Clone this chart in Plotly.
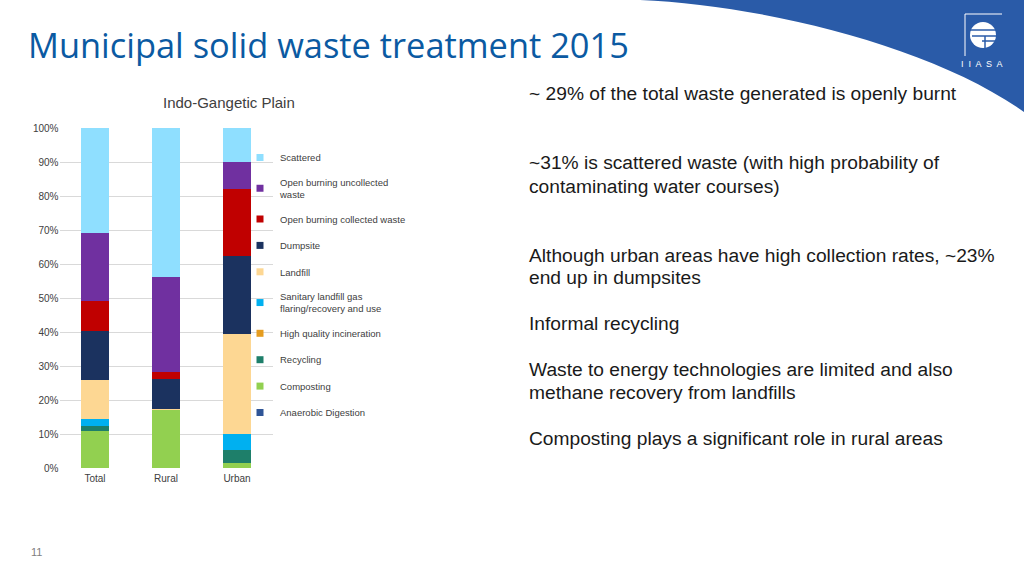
import plotly.graph_objects as go

W, H = 1024, 575

categories = ["Total", "Rural", "Urban"]
series_names = [
    "Anaerobic Digestion",
    "Composting",
    "Recycling",
    "High quality incineration",
    "Sanitary landfill gas<br>flaring/recovery and use",
    "Landfill",
    "Dumpsite",
    "Open burning collected waste",
    "Open burning uncollected<br>waste",
    "Scattered",
]
anaerobic = [0.0, 0.0, 0.0]
composting = [11.0, 17.2, 1.4]
recycling = [1.4, 0.0, 3.9]
incineration = [0.0, 0.0, 0.0]
sanitary = [2.0, 0.0, 4.7]
landfill = [11.5, 0.3, 29.3]
dumpsite = [14.3, 8.8, 23.1]
burn_collected = [8.8, 2.0, 19.6]
burn_uncollected = [20.1, 27.8, 7.9]
scattered = [30.9, 43.9, 10.1]
series_values = [anaerobic, composting, recycling, incineration, sanitary,
                 landfill, dumpsite, burn_collected, burn_uncollected, scattered]
colors = ["#2f5597", "#92d050", "#1e7f6a", "#e59c1f", "#00b0f0",
          "#fdd793", "#1b325f", "#c00000", "#7030a0", "#8fdfff"]

ytick_vals = [v / 100 for v in range(0, 101, 10)]
ytick_text = [f"{v}%" for v in range(0, 101, 10)]

fig = go.Figure()
for name, vals, col in zip(series_names, series_values, colors):
    fig.add_trace(go.Bar(x=categories, y=[v / 100 for v in vals], name=name,
                         marker=dict(color=col, line=dict(width=0)),
                         showlegend=False))
# legend entries (top of stack listed first)
for name, col in reversed(list(zip(series_names, colors))):
    fig.add_trace(go.Scatter(x=[None], y=[None], mode="markers", name=name,
                             legendgroup=name,
                             marker=dict(symbol="square", size=7, color=col)))


def px(x, y):
    return x / W, 1 - y / H


def path_px(cmds):
    out = []
    for c in cmds:
        if isinstance(c, str):
            out.append(c)
        else:
            x, y = px(*c)
            out.append(f"{x:.5f},{y:.5f}")
    return " ".join(out)


BLUE = "#2a5ba8"
shapes = []
# blue swoosh top right
shapes.append(dict(type="path", xref="paper", yref="paper",
                   path=path_px(["M", (640, 0), "C", (760, 5), (930, 45), (1024, 112),
                                 "L", (1024, 0), "Z"]),
                   fillcolor=BLUE, line=dict(width=0), layer="below"))
# logo frame
x0, y0 = px(965, 14)
x1, _ = px(1002, 14)
_, y2 = px(965, 56)
shapes.append(dict(type="line", xref="paper", yref="paper", x0=x0, y0=y0, x1=x1, y1=y0,
                   line=dict(color="white", width=1)))
shapes.append(dict(type="line", xref="paper", yref="paper", x0=x0, y0=y0, x1=x0, y1=y2,
                   line=dict(color="white", width=1)))
cx0, cy0 = px(970, 22)
cx1, cy1 = px(996, 48)
shapes.append(dict(type="circle", xref="paper", yref="paper", x0=cx0, y0=cy1, x1=cx1, y1=cy0,
                   fillcolor="white", line=dict(width=0)))
for yy, xa, xb in [(30, 970, 997), (36, 972, 997), (41, 982, 997)]:
    a, b = px(xa, yy)
    c, _ = px(xb, yy)
    shapes.append(dict(type="line", xref="paper", yref="paper", x0=a, y0=b, x1=c, y1=b,
                       line=dict(color=BLUE, width=1.5)))
a, b = px(985, 36)
_, d = px(985, 49)
shapes.append(dict(type="line", xref="paper", yref="paper", x0=a, y0=b, x1=a, y1=d,
                   line=dict(color=BLUE, width=1.5)))

annotations = []


def add_text(text, x, y, size, color, family, xanchor="left", yanchor="middle"):
    ax, ay = px(x, y)
    annotations.append(dict(text=text, x=ax, y=ay, xref="paper", yref="paper",
                            xanchor=xanchor, yanchor=yanchor, showarrow=False,
                            font=dict(size=size, color=color, family=family)))


add_text("Municipal solid waste treatment 2015", 26, 45, 34.4, "#0b5aa2", "Open Sans")
add_text("Indo-Gangetic Plain", 229, 102, 15, "#404040", "Liberation Sans", xanchor="center")
add_text("I  I  A  S  A", 982, 64, 9, "white", "Liberation Sans", xanchor="center")
add_text("11", 29, 552, 11, "#808080", "Liberation Sans")

body = [
    ("~ 29% of the total waste generated is openly burnt", 93),
    ("~31% is scattered waste (with high probability of", 162),
    ("contaminating water courses)", 186),
    ("Although urban areas have high collection rates, ~23%", 255),
    ("end up in dumpsites", 278),
    ("Informal recycling", 323),
    ("Waste to energy technologies are limited and also", 369),
    ("methane recovery from landfills", 392),
    ("Composting plays a significant role in rural areas", 438),
]
for t, y in body:
    add_text(t, 527, y, 19.2, "#1a1a1a", "Liberation Sans")

lx, ly = px(240, 143)
fig.update_layout(
    width=W, height=H,
    margin=dict(l=0, r=0, t=0, b=0, pad=0),
    paper_bgcolor="white", plot_bgcolor="white",
    barmode="stack", bargap=0.6,
    font=dict(family="Liberation Sans", size=10, color="#595959"),
    xaxis=dict(domain=[59.5 / W, 272.5 / W], showgrid=False, showline=False,
               ticks="", automargin=False, ticklabelstandoff=3,
               tickfont=dict(size=10, color="#404040"), fixedrange=True),
    yaxis=dict(domain=[(H - 468) / H, (H - 128) / H], range=[0, 1],
               tickvals=ytick_vals, ticktext=ytick_text, showgrid=True,
               gridcolor="#d9d9d9", gridwidth=1, zeroline=False, showline=False,
               ticks="", automargin=False, tickfont=dict(size=10, color="#404040")),
    legend=dict(x=lx, y=ly, xanchor="left", yanchor="top",
                traceorder="grouped", tracegroupgap=7.4,
                bgcolor="rgba(0,0,0,0)", font=dict(size=9.5, color="#404040")),
    shapes=shapes,
    annotations=annotations,
)

fig.write_html("out.html", config={"displayModeBar": False},
               post_script="document.body.style.margin='0';document.body.style.padding='0';")
